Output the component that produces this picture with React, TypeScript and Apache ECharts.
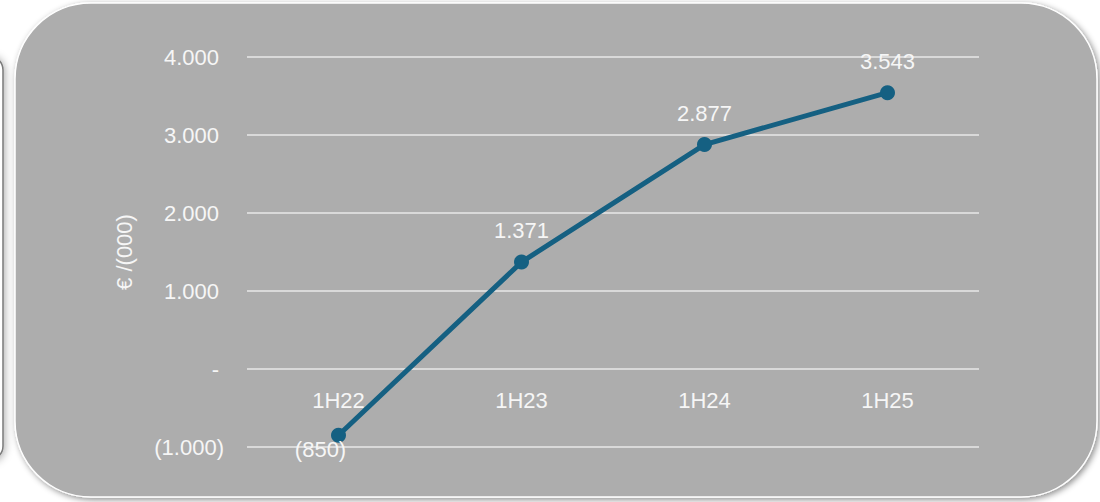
import React, { useEffect, useRef } from "react";
import * as echarts from "echarts";

const categories = ["1H22", "1H23", "1H24", "1H25"];
const values = [-850, 1371, 2877, 3543];
const yTicks = [-1000, 0, 1000, 2000, 3000, 4000];
const yAxisName = "€ /(000)";

function fmtNum(v: number): string {
  const abs = Math.abs(Math.round(v));
  const s = abs.toString().replace(/\B(?=(\d{3})+(?!\d))/g, ".");
  if (v === 0) return "-";
  return v < 0 ? `(${s})` : s;
}

export default function App() {
  const ref = useRef<HTMLDivElement>(null);
  useEffect(() => {
    if (!ref.current) return;
    const chart = echarts.init(ref.current, undefined, { renderer: "svg" });
    const txt = "#f6f6f6";
    const font = "Liberation Sans";
    const fs = 22;
    chart.setOption({
      animation: false,
      backgroundColor: "#ffffff",
      graphic: [
        {
          type: "rect",
          z: -10,
          shape: { x: -120, y: 56, width: 123, height: 404, r: 14 },
          style: {
            fill: "#ffffff",
            stroke: "#7a7a7a",
            lineWidth: 1.5,
            shadowBlur: 8,
            shadowColor: "rgba(0,0,0,0.35)",
            shadowOffsetX: 1,
            shadowOffsetY: 1,
          },
        },
        {
          type: "rect",
          z: -10,
          shape: { x: 15, y: 3, width: 1082, height: 494, r: 76 },
          style: {
            fill: "#adadad",
            stroke: "#ffffff",
            lineWidth: 1.5,
            shadowBlur: 6,
            shadowColor: "rgba(0,0,0,0.45)",
            shadowOffsetX: 2,
            shadowOffsetY: 2,
          },
        },
      ],
      grid: { left: 247, right: 121, top: 57, bottom: 55, containLabel: false },
      xAxis: {
        type: "category",
        data: categories,
        boundaryGap: true,
        offset: -78,
        axisLine: { show: false, onZero: false },
        axisTick: { show: false },
        axisLabel: { color: txt, fontSize: fs, fontFamily: font, margin: 20 },
      },
      yAxis: {
        type: "value",
        min: yTicks[0],
        max: yTicks[yTicks.length - 1],
        interval: 1000,
        name: yAxisName,
        nameLocation: "middle",
        nameGap: 112,
        nameRotate: 90,
        nameTextStyle: { color: txt, fontSize: fs, fontFamily: font },
        axisLine: { show: false },
        axisTick: { show: false },
        splitLine: { lineStyle: { color: "#d9d9d9", width: 2 } },
        axisLabel: {
          color: txt,
          fontSize: fs,
          fontFamily: font,
          margin: 23,
          formatter: (v: number) => (v < 0 ? `{n|${fmtNum(v)}}` : `{p|${fmtNum(v)}}`),
          rich: {
            p: { color: txt, fontSize: fs, fontFamily: font, padding: [0, 5, 0, 0] },
            n: { color: txt, fontSize: fs, fontFamily: font },
          },
        },
      },
      series: [
        {
          type: "line",
          data: values.map((v, i) =>
            i === 0
              ? { value: v, label: { position: "bottom", distance: 0, offset: [-18, -4] } }
              : v
          ),
          lineStyle: { color: "#156082", width: 5 },
          itemStyle: { color: "#156082" },
          symbol: "circle",
          symbolSize: 15,
          z: 5,
          label: {
            show: true,
            position: "top",
            distance: 13,
            color: txt,
            fontSize: fs,
            fontFamily: font,
            formatter: (p: any) => fmtNum(p.value),
          },
        },
      ],
    });
    return () => chart.dispose();
  }, []);
  return (
    <div
      ref={ref}
      style={{ position: "absolute", left: 0, top: 0, width: 1100, height: 502 }}
    />
  );
}
